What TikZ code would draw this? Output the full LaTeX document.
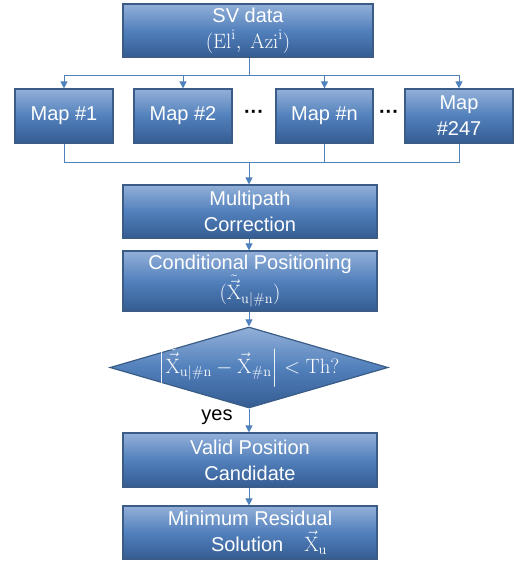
\documentclass[tikz,border=0pt]{standalone}
\usepackage{amsmath}
\usepackage[no-math]{fontspec}
\setmainfont{Liberation Sans}
\usepackage{tikz}
\usetikzlibrary{positioning, calc, arrows.meta, shapes.geometric}

\definecolor{boxtop}{RGB}{146,176,216}
\definecolor{boxmid}{RGB}{82,128,188}
\definecolor{boxbot}{RGB}{52,92,146}
\definecolor{boxline}{RGB}{58,92,135}
\definecolor{linkblue}{RGB}{79,129,189}

\begin{document}
\begin{tikzpicture}[x=1pt, y=-1pt, >={Triangle[length=7pt, width=7pt]},
    block/.style={rectangle, draw=boxline, line width=1.2pt, top color=boxtop, bottom color=boxbot, middle color=boxmid,
        text=white, align=center, inner sep=0pt, font=\fontsize{20}{26}\selectfont},
    link/.style={draw=linkblue, line width=1pt},
    dots/.style={font=\fontsize{20}{26}\selectfont\bfseries}]
    \useasboundingbox (0,0) rectangle (516,561);

    % Input data
    \node[block, minimum width=250pt, minimum height=53pt] (sv) at (248,30.5)
        {SV data\\$(\mathrm{El}^{\mathrm{i}},\ \mathrm{Azi}^{\mathrm{i}})$};

    % Maps
    \node[block, minimum width=98pt, minimum height=54pt] (m1) at (64,116) {Map \#1};
    \node[block, minimum width=98pt, minimum height=54pt] (m2) at (183,116) {Map \#2};
    \node[block, minimum width=97pt, minimum height=54pt] (mn) at (324.5,116) {Map \#n};
    \node[block, minimum width=108pt, minimum height=54pt] (m247) at (459,116) {Map\\\#247};
    \node[dots] (d1) at (254,114) {···};
    \node[dots] (d2) at (389,114) {···};

    % Main chain
    \node[block, minimum width=254pt, minimum height=53pt] (mc) at (250,211.5) {Multipath\\Correction};
    \node[block, minimum width=254pt, minimum height=60pt] (cp) at (250,281)
        {Conditional Positioning\\$(\tilde{\vec{\mathrm{X}}}_{\mathrm{u}|\#\mathrm{n}})$};
    \node[diamond, draw=boxline, line width=1.2pt, top color=boxtop, bottom color=boxbot, middle color=boxmid,
        inner sep=0pt, minimum width=278pt, minimum height=81pt] (dia) at (249,367.5) {};
    \node[text=white, font=\fontsize{20}{26}\selectfont] (th) at (dia)
        {$\left|\tilde{\vec{\mathrm{X}}}_{\mathrm{u}|\#\mathrm{n}} - \vec{\mathrm{X}}_{\#\mathrm{n}}\right| < \mathrm{Th}?$};
    \node[block, minimum width=254pt, minimum height=54pt] (vp) at (250,460) {Valid Position\\Candidate};
    \node[block, minimum width=254pt, minimum height=53pt] (mr) at (250,532.5)
        {Minimum Residual\\\hspace*{38pt}Solution\hspace{21pt}$\vec{\mathrm{X}}_{\mathrm{u}}$};

    % Fan out to maps
    \coordinate (split) at ($(sv.south)+(1,18)$);
    \draw[link] (sv.south -| split) -- (split);
    \foreach \m in {m1,m2,mn,m247}
        \draw[link,->] (split) -| (\m.north);

    % Collect maps
    \coordinate (merge) at ($(mc.north)+(-1,-22)$);
    \foreach \m in {m1,mn,m247}
        \draw[link] (\m.south) |- (merge);
    \draw[link,->] (merge) -- (merge |- mc.north);

    % Chain arrows
    \draw[link,->] (mc.south -| dia) -- (cp.north -| dia);
    \draw[link,->] (cp.south -| dia) -- (dia.north);
    \draw[link,->] (dia.south) -- node[left, pos=0.36, inner sep=0pt, xshift=-16pt, text=black,
        font=\fontsize{20}{26}\selectfont] (yes) {yes} (vp.north -| dia);
    \draw[link,->] (vp.south -| dia) -- (mr.north -| dia);
\end{tikzpicture}
\end{document}
